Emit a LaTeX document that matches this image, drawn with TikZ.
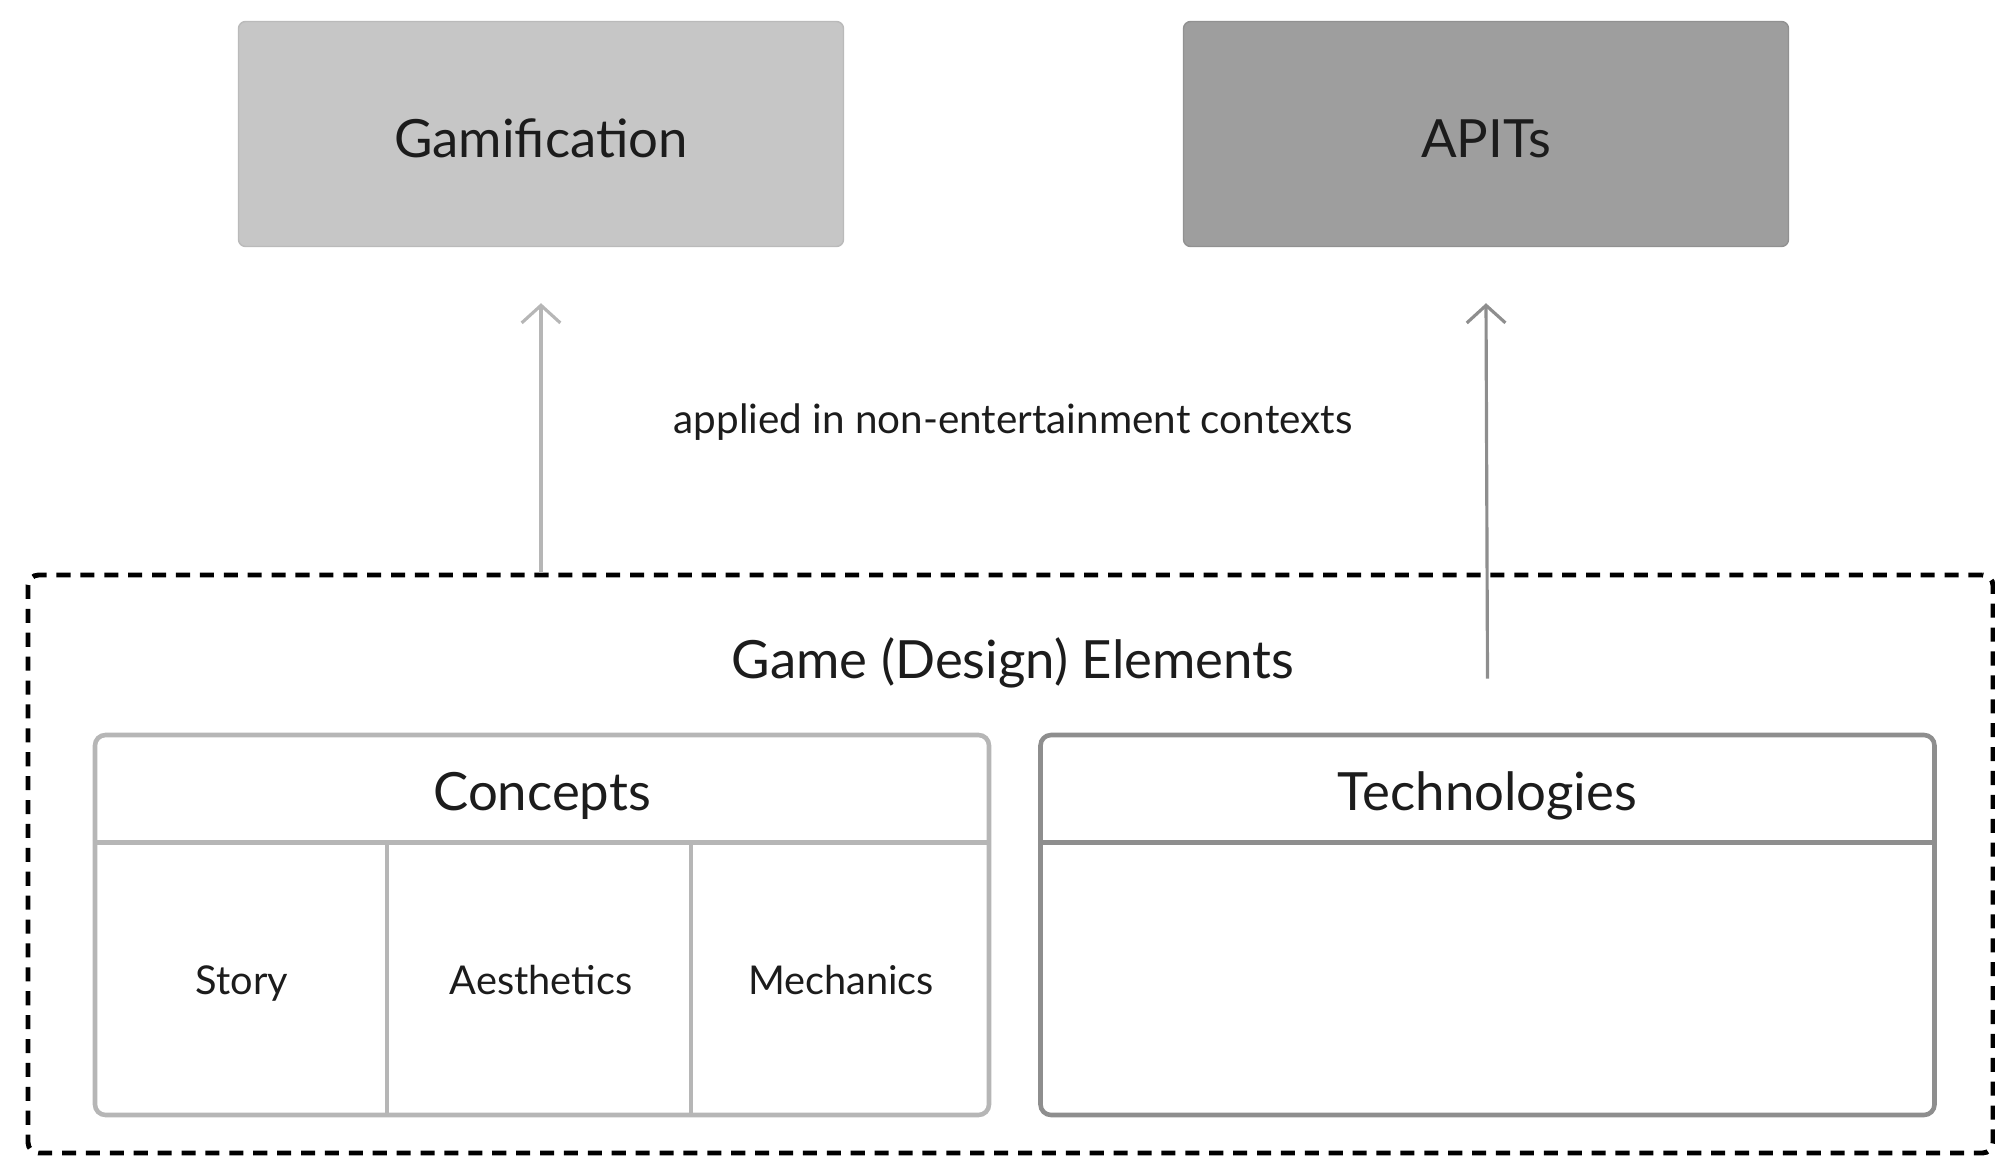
\documentclass[tikz,border=0pt]{standalone}
\usepackage{fontspec}
\setmainfont{Lato}
\usepackage{xcolor}
\usetikzlibrary{positioning, arrows.meta}

\definecolor{gamgray}{HTML}{C6C6C6}
\definecolor{apigray}{HTML}{9E9E9E}
\definecolor{lightline}{HTML}{B6B6B6}
\definecolor{darkline}{HTML}{8E8E8E}
\definecolor{textdark}{HTML}{1C1C1C}

\begin{document}
\begin{tikzpicture}[
    target/.style={rectangle, rounded corners=2pt, minimum width=6.05cm, minimum height=2.25cm, text=textdark, text height=13.3pt, text depth=0pt, font=\fontsize{15}{18}\selectfont},
    frame/.style={rectangle, draw, rounded corners=3pt, line width=1.3pt, minimum width=8.94cm, minimum height=3.8cm},
    head/.style={text=textdark, font=\fontsize{15}{18}\selectfont},
    cell/.style={text=textdark, text height=1.5ex, text depth=0.45ex, font=\fontsize{11.3}{14}\selectfont},
    uparrow/.style={-{Straight Barb[length=5pt, width=11pt]}, line width=0.9pt}
]
\useasboundingbox (0,0) rectangle (19.95,11.59);

% top boxes
\node[target, fill=gamgray, draw=gamgray!94!black] (gamif) at (5.41, 10.25) {Gamification};
\node[target, fill=apigray, draw=apigray!92!black] (apits) at (14.86, 10.25) {APITs};

\node[cell, font=\fontsize{11.5}{14}\selectfont] (applied) at (10.13, 7.35) {applied in non-entertainment contexts};

% dashed container
\node[rectangle, draw, dashed, line width=1.4pt, dash pattern=on 4pt off 2.8pt, rounded corners=3pt,
      minimum width=19.65cm, minimum height=5.78cm] (elements) at (10.105, 2.95) {};
\node[head] (title) at (10.13, 4.96) {Game (Design) Elements};

% concepts
\node[frame, draw=lightline] (concepts) at (5.42, 2.34) {};
\node[head] (conchead) at (5.42, 3.63) {Concepts};
\draw[lightline, line width=1.3pt] ([yshift=-1.1cm]concepts.north west) -- ([yshift=-1.1cm]concepts.north east);
\foreach \dx in {2.94, 5.98}
    \draw[lightline, line width=1.1pt] ([xshift=\dx cm, yshift=-1.1cm]concepts.north west) -- ([xshift=\dx cm]concepts.south west);
\node[cell] (story) at (2.42, 1.74) {Story};
\node[cell] (aesth) at (5.41, 1.74) {Aesthetics};
\node[cell] (mech) at (8.41, 1.74) {Mechanics};

% technologies
\node[frame, draw=darkline] (tech) at (14.875, 2.34) {};
\node[head] (techhead) at (14.875, 3.63) {Technologies};
\draw[darkline, line width=1.3pt] ([yshift=-1.1cm]tech.north west) -- ([yshift=-1.1cm]tech.north east);

% arrows
\draw[uparrow, lightline] (elements.north -| gamif) -- ([yshift=-0.56cm]gamif.south);
\draw[uparrow, darkline] ([yshift=0.54cm]tech.north) -- ([yshift=-0.56cm]apits.south);

\end{tikzpicture}
\end{document}
